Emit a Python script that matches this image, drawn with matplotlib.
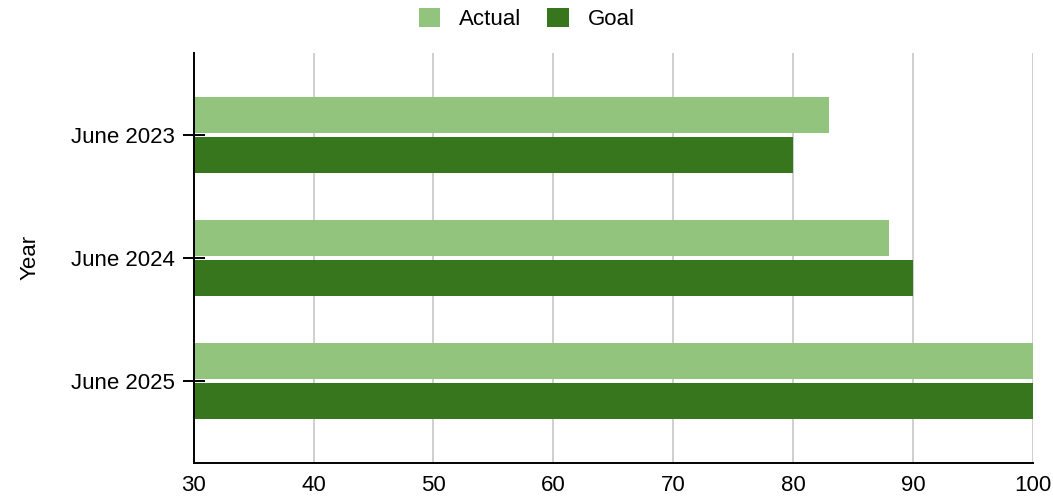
import matplotlib.pyplot as plt
import numpy as np

plt.rcParams['font.family'] = ['Liberation Sans', 'DejaVu Sans']

years = ["June 2023", "June 2024", "June 2025"]
actual = [83, 88, 100]
goal = [80, 90, 100]

ACTUAL_COLOR = "#93c47d"
GOAL_COLOR = "#38761d"

fig = plt.figure(figsize=(10.53, 4.98), dpi=100)
ax = fig.add_axes([0.184, 0.0703, 0.7967, 0.8239])

y = np.arange(len(years))
h = 0.293
off = 0.163
ax.barh(y - off, [a - 30 for a in actual], left=30, height=h, color=ACTUAL_COLOR, label="Actual", zorder=3)
ax.barh(y + off, [g - 30 for g in goal], left=30, height=h, color=GOAL_COLOR, label="Goal", zorder=3)

ax.set_xlim(30, 100)
ax.set_ylim(2.667, -0.667)
ax.set_xticks(range(30, 101, 10))
ax.set_yticks(y)
ax.set_yticklabels(years)

ax.grid(axis="x", color="#cccccc", linewidth=1.3, zorder=0)
ax.set_axisbelow(True)
for s in ["top", "right"]:
    ax.spines[s].set_visible(False)
ax.spines["left"].set_linewidth(1.4)
ax.spines["bottom"].set_linewidth(1.4)
ax.spines["left"].set_zorder(4)

ax.tick_params(axis="y", direction="inout", length=16, width=1.4, labelsize=16, pad=5.5)
ax.tick_params(axis="x", length=0, labelsize=16, pad=9)
ax.set_ylabel("Year", fontsize=16)
ax.yaxis.set_label_coords(-0.183, 0.5)

fig.legend(loc="upper center", bbox_to_anchor=(0.5, 1.025), ncol=2, frameon=False,
           fontsize=16, handlelength=0.95, handleheight=0.95, columnspacing=1.2, handletextpad=0.85)

fig.savefig("out.png", dpi=100)
